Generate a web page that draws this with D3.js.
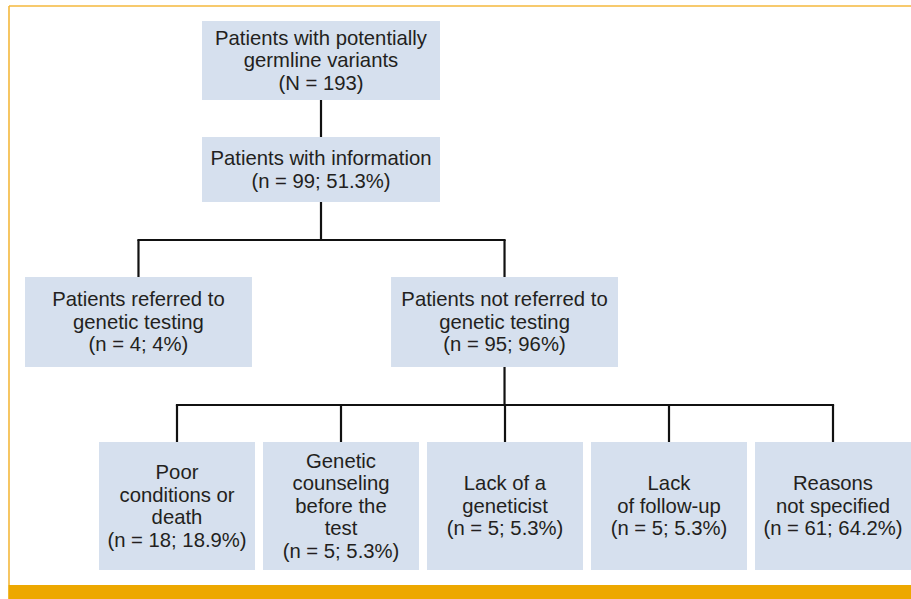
<!DOCTYPE html>
<html>
<head>
<meta charset="utf-8">
<script src="https://cdn.jsdelivr.net/npm/d3@7"></script>
<style>
  html, body { margin: 0; padding: 0; background: #ffffff; }
  svg { display: block; }
</style>
</head>
<body>
<svg id="chart" width="911" height="599"></svg>
<script>
// ---- data ----
const rootLabel = ["Patients with potentially", "germline variants"];
const rootN = 193;
const infoLabel = ["Patients with information"];
const infoN = 99;
const infoPct = 51.3;
const referralCategories = [
  ["Patients referred to", "genetic testing"],
  ["Patients not referred to", "genetic testing"]
];
const referralCounts = [4, 95];
const referralPcts = ["4", "96"];
const reasonCategories = [
  ["Poor", "conditions or", "death"],
  ["Genetic", "counseling", "before the", "test"],
  ["Lack of a", "geneticist"],
  ["Lack", "of follow-up"],
  ["Reasons", "not specified"]
];
const reasonCounts = [18, 5, 5, 5, 61];
const reasonPcts = ["18.9", "5.3", "5.3", "5.3", "64.2"];

// ---- layout ----
const svg = d3.select("#chart");
const W = 911, H = 599;
const boxFill = "#d6e0ee";
const textColor = "#231f20";
const fontSize = 20.3;
const lineH = 22.5;

// frame
svg.append("line").attr("x1", 9).attr("x2", W).attr("y1", 6).attr("y2", 6)
  .attr("stroke", "#f4b83c").attr("stroke-width", 1.6);
svg.append("line").attr("x1", 9).attr("x2", 9).attr("y1", 6).attr("y2", 585)
  .attr("stroke", "#f4b83c").attr("stroke-width", 1.6);
svg.append("rect").attr("x", 8.2).attr("y", 585).attr("width", W - 8.2).attr("height", 14)
  .attr("fill", "#eda800");

// row scales
const rowTop = d3.scaleOrdinal().domain(["root", "info", "ref", "reason"]).range([21, 137, 277, 442]);
const rowHeight = d3.scaleOrdinal().domain(["root", "info", "ref", "reason"]).range([79, 65, 90, 128]);

const xTop = d3.scaleBand().domain(["root"]).range([202, 440]);
const xRef = d3.scaleBand().domain(d3.range(referralCategories.length)).range([25, 618]).paddingInner(0.38);
const xReason = d3.scaleBand().domain(d3.range(reasonCategories.length)).range([99, 911]).paddingInner(8 / 164);

const nodes = [];
nodes.push({ id: "root", row: "root", x: xTop("root"), w: xTop.bandwidth(),
  lines: rootLabel.concat([`(N = ${rootN})`]) });
nodes.push({ id: "info", row: "info", x: xTop("root"), w: xTop.bandwidth(), parent: "root",
  lines: infoLabel.concat([`(n = ${infoN}; ${infoPct}%)`]) });
referralCategories.forEach((c, i) => nodes.push({
  id: "ref" + i, row: "ref", x: xRef(i), w: xRef.bandwidth(), parent: "info",
  lines: c.concat([`(n = ${referralCounts[i]}; ${referralPcts[i]}%)`])
}));
reasonCategories.forEach((c, i) => nodes.push({
  id: "reason" + i, row: "reason", x: xReason(i), w: xReason.bandwidth(), parent: "ref1",
  lines: c.concat([`(n = ${reasonCounts[i]}; ${reasonPcts[i]}%)`])
}));
nodes.forEach(n => {
  n.y = rowTop(n.row); n.h = rowHeight(n.row); n.cx = n.x + n.w / 2; n.cy = n.y + n.h / 2;
});
const byId = new Map(nodes.map(n => [n.id, n]));

// connectors
const linkG = svg.append("g").attr("fill", "none").attr("stroke", "#111").attr("stroke-width", 2.2);
const groups = d3.group(nodes.filter(n => n.parent), n => n.parent);
groups.forEach((kids, pid) => {
  const p = byId.get(pid);
  const childTop = kids[0].y;
  if (kids.length === 1) {
    linkG.append("line").attr("x1", p.cx).attr("x2", p.cx)
      .attr("y1", p.y + p.h).attr("y2", childTop);
  } else {
    const midY = Math.round((p.y + p.h + childTop) / 2);
    linkG.append("line").attr("x1", p.cx).attr("x2", p.cx).attr("y1", p.y + p.h).attr("y2", midY);
    const xs = kids.map(k => k.cx);
    linkG.append("line").attr("x1", d3.min(xs) - 1.1).attr("x2", d3.max(xs) + 1.1)
      .attr("y1", midY).attr("y2", midY);
    kids.forEach(k => linkG.append("line").attr("x1", k.cx).attr("x2", k.cx)
      .attr("y1", midY).attr("y2", k.y));
  }
});

// boxes
const nodeG = svg.append("g").selectAll("g").data(nodes).join("g");
nodeG.append("rect")
  .attr("x", d => d.x).attr("y", d => d.y).attr("width", d => d.w).attr("height", d => d.h)
  .attr("fill", boxFill);
nodeG.append("text")
  .attr("text-anchor", "middle")
  .attr("font-family", "'Liberation Sans', Arial, Helvetica, sans-serif")
  .attr("font-size", fontSize)
  .attr("fill", textColor)
  .each(function (d) {
    const t = d3.select(this);
    const first = d.cy - (d.lines.length - 1) / 2 * lineH + 6.8;
    d.lines.forEach((l, i) => t.append("tspan").attr("x", d.cx).attr("y", first + i * lineH).text(l));
  });
</script>
</body>
</html>
